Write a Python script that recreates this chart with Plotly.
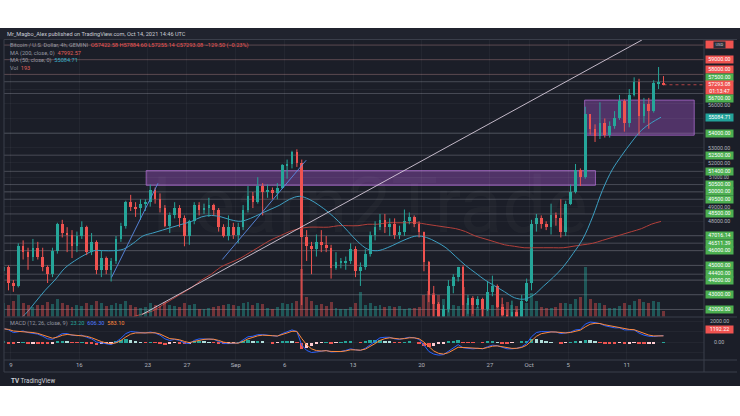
import numpy as np
import pandas as pd
import plotly.graph_objects as go

W, H = 740, 416

# ---------------- data: BTC/USD, 12h bars ----------------
BAR_START = "2021-08-08 06:00"   # centre of the first 12h bar
OPEN_FIRST = 44600

CLOSES = [
    44900, 43800, 43600, 46300, 45900, 45600, 46200, 45600, 44900, 44400,
    46000, 47800, 47200, 47100, 46300, 47000, 47600, 45900, 46600, 44700,
    45500, 44700, 45300, 46800, 47700, 49300, 49000, 48900, 49200, 49300,
    50100, 49500, 48900, 47700, 48400, 48900, 48200, 47000, 48000, 49100,
    48800, 48900, 49100, 48800, 47600, 47000, 47600, 47100,
    47600, 48800, 49700, 49300, 50400, 50000, 50100, 49900, 50300, 51800,
    51900, 52700, 52000, 46900, 46300, 46100, 46600, 46400, 46200, 44800,
    45200, 45200, 45300, 46100, 44600, 44900, 45800, 47100, 47600, 48100,
    47600, 47800, 47100, 47300, 48000, 48300, 47800, 47300, 45200, 43000,
    42400, 40700, 42000, 43600, 44200, 44900, 42300, 42800, 42300, 42700,
    42000, 43200, 43600, 42200, 41600, 41000, 41800, 41500, 42600, 43800,
    47800, 48200, 47800, 47600, 48400, 48200, 47300, 49200, 50000, 51500,
    51000, 55300, 54300, 53800, 54700, 53900, 54500, 55000, 56200, 54700,
    56600, 57500, 55200, 56000, 55500, 57400, 57422.58, 57293.08,
]
HIGHS = [
    45300, 45000, 44000, 46500, 46700, 46200, 46800, 46600, 46200, 45000,
    46200, 47900, 48100, 47600, 47400, 47300, 48000, 47700, 47200, 46700,
    46000, 45600, 45500, 47000, 47900, 49400, 49800, 49300, 49500, 49500,
    50500, 50300, 49900, 49100, 48600, 49300, 49100, 48400, 48100, 49300,
    49300, 49200, 49600, 49200, 48900, 47800, 48400, 47900,
    47900, 49100, 50400, 50000, 51000, 50600, 50500, 50300, 50600, 51900,
    52200, 52800, 52900, 52200, 47400, 46600, 47100, 47400, 47000, 46400,
    45900, 45500, 45600, 46500, 46300, 45200, 46100, 47300, 48000, 48500,
    48500, 48200, 48200, 47700, 48800, 48600, 48400, 48000, 47300, 45300,
    43600, 42500, 42300, 44000, 44400, 44900, 45000, 43000, 42900, 42900,
    42800, 43900, 44300, 43700, 42800, 42000, 42600, 42000, 43000, 44100,
    48100, 48500, 48400, 48000, 49200, 48600, 49500, 49400, 50500, 51900,
    51600, 55800, 55300, 54600, 56100, 55000, 54800, 55500, 56600, 56300,
    57000, 57800, 57700, 56400, 56400, 57600, 58500, 57884.60,
]
LOWS = [
    44300, 43300, 43200, 43500, 45400, 44700, 45300, 45400, 44600, 43800,
    44200, 45800, 46900, 45900, 45500, 45900, 46800, 45700, 45700, 44400,
    44200, 44400, 43900, 45100, 46600, 47500, 48700, 48300, 48100, 48700,
    49000, 49200, 48600, 47600, 47200, 48200, 47600, 46300, 46400, 47800,
    48400, 48500, 48300, 48400, 47300, 46900, 46700, 46800,
    46500, 47400, 48600, 48900, 49200, 48400, 49600, 49500, 49500, 50200,
    50900, 51600, 51700, 42300, 45300, 44400, 45600, 45900, 45900, 44100,
    44700, 44800, 44700, 45100, 44200, 43600, 44700, 45600, 46700, 47400,
    47200, 47000, 46800, 46800, 47000, 47800, 47600, 46900, 44600, 42500,
    40800, 39600, 40600, 41800, 43100, 43900, 40700, 41700, 41700, 42100,
    40800, 41900, 42900, 42100, 41300, 40900, 40800, 41200, 41400, 42500,
    43300, 47300, 47500, 47400, 47100, 47700, 46900, 47000, 49100, 49900,
    50400, 50900, 53900, 53400, 53600, 53700, 53700, 54300, 54900, 54100,
    54400, 56500, 53900, 54700, 54300, 55400, 57000, 57255.14,
]
VOLUME = [  # hundreds of BTC per bar
    14, 12, 16, 22, 14, 12, 10, 12, 12, 15,
    13, 18, 14, 12, 10, 12, 11, 14, 12, 16,
    14, 11, 12, 14, 13, 16, 12, 10, 9, 10,
    14, 12, 11, 15, 12, 11, 10, 14, 12, 13,
    8, 8, 9, 10, 11, 12, 13, 12,
    11, 14, 15, 12, 14, 13, 9, 8, 10, 14,
    13, 14, 16, 48, 20, 16, 12, 13, 11, 15,
    9, 8, 8, 10, 14, 25, 12, 14, 11, 12,
    10, 11, 10, 11, 8, 9, 9, 10, 22, 26,
    24, 22, 18, 16, 12, 11, 30, 14, 12, 10,
    14, 12, 12, 14, 13, 15, 12, 11, 12, 14,
    24, 16, 10, 9, 9, 10, 14, 14, 13, 18,
    20, 50, 18, 14, 14, 12, 9, 9, 11, 14,
    12, 16, 18, 15, 14, 16, 15, 6,
]
MACD_LINE = [
    1300, 1150, 900, 1000, 1050, 900, 850, 750, 550, 300,
    250, 550, 800, 800, 650, 600, 650, 450, 300, 0,
    -100, -200, -250, 0, 350, 800, 1000, 950, 900, 850,
    950, 850, 650, 300, 150, 250, 150, -100, -150, 150,
    300, 300, 300, 250, 50, -150, -150, -150,
    -100, 200, 500, 550, 700, 700, 650, 550, 550, 800,
    1000, 1150, 1000, -300, -800, -1000, -950, -900, -800, -950,
    -950, -900, -800, -650, -750, -800, -600, -250, 100, 400,
    450, 450, 300, 250, 350, 450, 400, 250, -300, -900,
    -1150, -1250, -1200, -900, -600, -250, -550, -600, -650, -600,
    -650, -450, -300, -350, -500, -650, -650, -600, -450, -150,
    500, 900, 1000, 1000, 1000, 950, 800, 850, 950, 1150,
    1200, 1700, 1900, 1850, 1750, 1550, 1450, 1350, 1350, 1150,
    1150, 1150, 850, 650, 550, 520, 580, 606.30,
]
MACD_SIGNAL = [
    1250, 1200, 1050, 1020, 1030, 960, 900, 820, 680, 480,
    360, 460, 640, 720, 680, 640, 640, 540, 410, 190,
    40, -90, -170, -80, 140, 480, 750, 860, 880, 860,
    910, 880, 760, 520, 320, 280, 210, 50, -60, 50,
    180, 250, 280, 260, 150, -10, -90, -130,
    -110, 60, 300, 440, 590, 650, 650, 600, 570, 690,
    860, 1020, 1010, 330, -270, -650, -820, -860, -830, -900,
    -930, -910, -850, -740, -750, -780, -680, -450, -150, 150,
    320, 400, 340, 290, 320, 400, 400, 310, -10, -480,
    -850, -1080, -1150, -1020, -790, -500, -520, -560, -610, -600,
    -630, -530, -400, -370, -440, -560, -610, -600, -520, -310,
    120, 540, 790, 910, 960, 950, 870, 860, 910, 1040,
    1130, 1440, 1690, 1780, 1760, 1640, 1540, 1440, 1390, 1260,
    1200, 1170, 1000, 810, 660, 580, 580, 583.10,
]

# moving averages, one reading per day at 12:00 (USD thousands)
MA_START = "2021-08-08 12:00"
MA50 = [
    40.6, 41.1, 41.7, 42.5, 43.3, 44.0, 44.8, 45.3, 45.7, 46.0, 46.0, 46.0,
    46.1, 46.5, 47.0, 47.2, 47.4, 47.6, 47.8, 48.0, 48.3, 48.4, 48.3, 48.1,
    48.0, 48.2, 48.5, 48.8, 49.1, 49.5, 49.7, 49.5, 49.1, 48.6, 48.0, 47.3,
    46.6, 46.1, 46.0, 46.2, 46.5, 46.8, 47.0, 46.9, 46.6, 46.2, 45.6, 45.0,
    44.5, 44.0, 43.6, 43.2, 42.8, 42.7,
    43.0, 43.6, 44.2, 44.9, 45.8, 46.8, 48.3, 50.1, 51.5, 52.5, 53.4, 54.2,
    54.7, 55.08471,
]
MA200 = [
    37.0, 37.4, 37.8, 38.2, 38.6, 39.0, 39.4, 39.8, 40.1, 40.5, 40.8, 41.1,
    41.3, 41.5, 41.7, 41.9, 42.3, 42.7, 43.1, 43.5, 44.0, 44.4, 44.9, 45.2,
    45.5, 45.9, 46.3, 46.7, 47.0, 47.3, 47.5, 47.6, 47.6, 47.6, 47.7, 47.7,
    47.7, 47.8, 47.8, 47.9, 47.9, 47.9, 47.9, 47.8, 47.7, 47.6, 47.5, 47.3,
    47.0, 46.8, 46.6, 46.4, 46.3, 46.2,
    46.2, 46.2, 46.2, 46.2, 46.3, 46.4, 46.5, 46.7, 46.9, 47.1, 47.3, 47.5,
    47.8, 47.99257,
]

# horizontal levels drawn on the chart
LEVELS_RED = [60000, 59000, 58000]
LEVELS_GREEN = [57500, 56700, 54000, 52500, 51400, 50500, 50000, 49500, 48500,
                47016.14, 46511.39, 46000, 45000, 44400, 44000, 43000, 42000]
SCALE_TICKS = [56000, 53000, 52000, 51000, 49000, 48000]

# rectangles (time from, time to, price low, price high)
ZONES = [
    ("2021-08-22 20:00", "2021-10-07 19:00", 50450, 51450),
    ("2021-10-06 16:30", "2021-10-17 21:30", 53860, 56250),
]
# trend lines ((time, price), (time, price), colour)
TRENDLINES = [
    (("2021-08-22 10:00", 41660), ("2021-10-12 13:00", 60340), "rgba(225,212,228,0.85)"),
    (("2021-08-19 07:00", 44180), ("2021-08-24 01:00", 50590), "rgba(90,140,230,0.9)"),
    (("2021-08-30 15:00", 45400), ("2021-09-08 05:00", 52160), "rgba(90,140,230,0.9)"),
]

TIME_TICKS = ["2021-08-09", "2021-08-16", "2021-08-23", "2021-08-27", "2021-09-01",
              "2021-09-06", "2021-09-13", "2021-09-20", "2021-09-27", "2021-10-01",
              "2021-10-05", "2021-10-11"]
TIME_TEXT = ["9", "16", "23", "27", "Sep", "6", "13", "20", "27", "Oct", "5", "11"]

# ---------------- derived series ----------------
closes = np.array(CLOSES, dtype=float)
opens = np.concatenate([[OPEN_FIRST], closes[:-1]])
highs = np.array(HIGHS, dtype=float)
lows = np.array(LOWS, dtype=float)
t = pd.date_range(BAR_START, periods=len(closes), freq="12h")
t_ma = pd.date_range(MA_START, periods=len(MA50), freq="D")
ma50 = np.array(MA50) * 1000
ma200 = np.array(MA200) * 1000
macd = np.array(MACD_LINE, dtype=float)
signal = np.array(MACD_SIGNAL, dtype=float)
hist = macd - signal

UP, DOWN = "#26a69a", "#ef5350"
up_mask = closes >= opens
BAR_MS = 12 * 3600 * 1000

# ---------------- geometry ----------------
PANE_TOP, PANE_BOT = 40.0, 316.5
MACD_TOP, MACD_BOT = 317.5, 360.0
PLOT_L, PLOT_R = 4.0, 704.0
Y_MIN, Y_MAX = 41520, 60340
M_MIN, M_MAX = -1714, 2333
X_RANGE = ["2021-08-08 07:00", "2021-10-18 21:30"]
BG = "#1b1e28"
FONT = "Roboto"


def py(p):
    return PANE_TOP + (Y_MAX - p) / (Y_MAX - Y_MIN) * (PANE_BOT - PANE_TOP)


def my(v):
    return MACD_TOP + (M_MAX - v) / (M_MAX - M_MIN) * (MACD_BOT - MACD_TOP)


def yp(pix):
    return 1 - pix / H


fig = go.Figure()

# volume (overlay at the bottom of the price pane)
fig.add_trace(go.Bar(
    x=t, y=VOLUME, yaxis="y3",
    marker=dict(color=np.where(up_mask, "rgba(38,166,154,0.42)", "rgba(239,83,80,0.42)"),
                line=dict(width=0)),
    width=BAR_MS * 0.6, hoverinfo="skip", showlegend=False))

# moving averages
fig.add_trace(go.Scatter(x=t_ma, y=ma200, mode="lines", line=dict(color="#b3403b", width=1, shape="spline"),
                         hoverinfo="skip", showlegend=False))
fig.add_trace(go.Scatter(x=t_ma, y=ma50, mode="lines", line=dict(color="#3d9fc2", width=1, shape="spline"),
                         hoverinfo="skip", showlegend=False))

# candles: wicks as segments, bodies as floating bars
for mask, col in ((up_mask, UP), (~up_mask, DOWN)):
    wx, wy = [], []
    for ti, lo, hi in zip(t[mask], lows[mask], highs[mask]):
        wx += [ti, ti, None]
        wy += [lo, hi, None]
    fig.add_trace(go.Scatter(x=wx, y=wy, mode="lines", line=dict(color=col, width=1),
                             hoverinfo="skip", showlegend=False))
    body_lo = np.minimum(opens[mask], closes[mask])
    body_h = np.maximum(np.abs(closes[mask] - opens[mask]), 40)
    fig.add_trace(go.Bar(x=t[mask], y=body_h, base=body_lo, width=BAR_MS * 0.55,
                         marker=dict(color=col, line=dict(width=0)),
                         hoverinfo="skip", showlegend=False))

# MACD pane
hist_colors = []
for i, h in enumerate(hist):
    prev = hist[i - 1] if i else h
    if h >= 0:
        hist_colors.append("#26a69a" if h >= prev else "#b2dfdb")
    else:
        hist_colors.append("#ffcdd2" if h > prev else "#ef5350")
fig.add_trace(go.Bar(x=t, y=hist, yaxis="y2", marker=dict(color=hist_colors, line=dict(width=0)),
                     width=BAR_MS * 0.7, hoverinfo="skip", showlegend=False))
fig.add_trace(go.Scatter(x=t, y=macd, yaxis="y2", mode="lines", line=dict(color="#2962ff", width=1),
                         hoverinfo="skip", showlegend=False))
fig.add_trace(go.Scatter(x=t, y=signal, yaxis="y2", mode="lines", line=dict(color="#ff8a3d", width=1),
                         hoverinfo="skip", showlegend=False))

shapes = []
# page frame: dark chart card on white
shapes.append(dict(type="rect", xref="paper", yref="paper", x0=0, x1=1, y0=yp(386), y1=yp(28),
                   fillcolor=BG, line=dict(width=0), layer="below"))
shapes.append(dict(type="rect", xref="paper", yref="paper", x0=0, x1=1, y0=yp(39.5), y1=yp(28),
                   fillcolor="#20232e", line=dict(width=0), layer="below"))
for y0 in (39.5, PANE_BOT + 0.5, MACD_BOT, 372):
    shapes.append(dict(type="line", xref="paper", yref="paper", x0=PLOT_L / W, x1=1 - 3 / W,
                       y0=yp(y0), y1=yp(y0), line=dict(color="#3a3e4a", width=1)))
shapes.append(dict(type="line", xref="paper", yref="paper", x0=PLOT_R / W, x1=PLOT_R / W,
                   y0=yp(372), y1=yp(39.5), line=dict(color="#3a3e4a", width=1)))
shapes.append(dict(type="line", xref="paper", yref="paper", x0=PLOT_L / W, x1=PLOT_L / W,
                   y0=yp(372), y1=yp(39.5), line=dict(color="#3a3e4a", width=1)))

# horizontal levels
for lv in LEVELS_RED:
    shapes.append(dict(type="line", xref="x", yref="y", x0=X_RANGE[0], x1=X_RANGE[1], y0=lv, y1=lv,
                       line=dict(color="rgba(220,150,150,0.3)", width=1), layer="below"))
for lv in LEVELS_GREEN:
    shapes.append(dict(type="line", xref="x", yref="y", x0=X_RANGE[0], x1=X_RANGE[1], y0=lv, y1=lv,
                       line=dict(color="rgba(200,205,215,0.26)", width=1), layer="below"))
# last price line, from the last bar to the scale
shapes.append(dict(type="line", xref="x", yref="y", x0=t[-1], x1=X_RANGE[1],
                   y0=closes[-1], y1=closes[-1], line=dict(color="rgba(239,83,80,0.7)", width=1, dash="dot")))

# zones
for x0, x1, lo, hi in ZONES:
    shapes.append(dict(type="rect", xref="x", yref="y", x0=x0, x1=x1, y0=lo, y1=hi,
                       fillcolor="rgba(156,82,190,0.42)", line=dict(color="rgba(175,110,210,0.75)", width=1),
                       layer="below"))
# trend lines
for (ta, pa), (tb, pb), col in TRENDLINES:
    shapes.append(dict(type="line", xref="x", yref="y", x0=ta, y0=pa, x1=tb, y1=pb,
                       line=dict(color=col, width=1)))

ann = []


def note(px_x, px_y, text, size, color, xanchor="center", **kw):
    """Annotation placed in page pixels, anchored on its middle."""
    d = dict(x=px_x / W, y=yp(px_y), xref="paper", yref="paper", showarrow=False, text=text,
             xanchor=xanchor, yanchor="middle", font=dict(family=FONT, size=size, color=color))
    d.update(kw)
    ann.append(d)


# watermark
note(370, 205, "Learn2Trade", 78, "rgba(255,255,255,0.028)")

# header and legend
TXT = "#c9ccd4"
DIM = "#9598a1"
note(5, 34, "Mr_Magbo_Alex published on TradingView.com, Oct 14, 2021 14:46 UTC", 5.6, TXT, xanchor="left")
chg = closes[-1] - closes[-2]
ohlc_txt = (f"O{opens[-1]:.2f} H{highs[-1]:.2f} L{lows[-1]:.2f} C{closes[-1]:.2f} "
            f"{chg:+.2f} ({chg / closes[-2] * 100:+.2f}%)").replace("-", "\u2212")
legend_rows = [
    (45.7, "Bitcoin / U.S. Dollar, 4h, GEMINI", ohlc_txt, DOWN),
    (53.2, "MA (200, close, 0)", f"{ma200[-1]:.2f}", "#e0605a"),
    (60.4, "MA (50, close, 0)", f"{ma50[-1]:.2f}", "#3bb0c9"),
    (67.8, "Vol", "193", "#e0605a"),
]
for row_y, lab, val, col in legend_rows:
    note(8, row_y, f"<span style='color:{DIM}'>{lab}</span>  <span style='color:{col}'>{val}</span>",
         5.6, DIM, xanchor="left")
note(8, 323.5, (f"<span style='color:{DIM}'>MACD (12, 26, close, 9)</span>  "
                f"<span style='color:{hist_colors[-1]}'>{hist[-1]:.2f}</span>  "
                f"<span style='color:#4f7cff'>{macd[-1]:.2f}</span>  "
                f"<span style='color:#ff8a3d'>{signal[-1]:.2f}</span>"), 5.6, DIM, xanchor="left")

# price-scale labels; the last-price label stays put, the others are pushed apart
LABEL_H = 6.6
labels = []
for lv in LEVELS_RED:
    labels.append(dict(p=lv, text=f"{lv:.2f}", bg="#ef5350", h=LABEL_H, off=0, fixed=False))
labels.append(dict(p=closes[-1], text=f"{closes[-1]:.2f}<br>01:13:47", bg="#ef5350", h=12.5, off=3.0,
                   fixed=True))
for lv in LEVELS_GREEN:
    labels.append(dict(p=lv, text=f"{lv:.2f}", bg="#4caf50", h=LABEL_H, off=0, fixed=False))
labels.append(dict(p=ma50[-1], text=f"{ma50[-1]:.2f}", bg="#22a39b", h=LABEL_H, off=0, fixed=False))
for lb in labels:
    lb["y"] = py(lb["p"]) + lb["off"]
labels.sort(key=lambda d: d["y"])
for _ in range(400):
    for a, b in zip(labels[:-1], labels[1:]):
        gap = (a["h"] + b["h"]) / 2 + 1.0
        d = b["y"] - a["y"]
        if d < gap:
            need = gap - d
            if a["fixed"]:
                b["y"] += need
            elif b["fixed"]:
                a["y"] -= need
            else:
                a["y"] -= need / 2
                b["y"] += need / 2

LX = 719
# plain scale ticks sit in the free space between the coloured labels
for tk in SCALE_TICKS:
    ty = py(tk)
    above = max((lb["y"] + lb["h"] / 2 for lb in labels if lb["y"] <= ty), default=PANE_TOP)
    below = min((lb["y"] - lb["h"] / 2 for lb in labels if lb["y"] > ty), default=PANE_BOT)
    room = below - above
    ty = min(max(ty, above + 3.3), below - 3.3) if room >= 6.6 else (above + below) / 2
    size = 5.3 if room >= 6.6 else max(3.6, room * 0.75)
    note(LX, ty, f"{tk:.2f}", size, "#b2b5be")

for lb in labels:
    # the top label sits under the currency button
    txt = " " if lb["p"] == max(LEVELS_RED) else lb["text"]
    note(LX, lb["y"], txt, 5.3, "#ffffff", bgcolor=lb["bg"], width=27, height=lb["h"], borderpad=0)
# currency button over the top label
note(LX, 44.5, "USD", 4.2, "#d1d4dc", bgcolor="#2a2e39", width=11, height=5.5, borderpad=0)
# MACD scale labels
note(LX, my(2000), "2000.00", 5.3, "#b2b5be")
note(LX, my(1192.22), "1192.22", 5.3, "#ffffff", bgcolor="#ef5350", width=27, height=LABEL_H, borderpad=0)
note(LX, my(0), "0.00", 5.3, "#b2b5be")

# footer logo
note(9, 380.5, "<b>TV</b> TradingView", 6.3, "#d1d4dc", xanchor="left")

fig.update_layout(
    width=W, height=H, margin=dict(l=0, r=0, t=0, b=0),
    paper_bgcolor="#ffffff", plot_bgcolor="rgba(0,0,0,0)",
    showlegend=False, barmode="overlay", bargap=0, hovermode=False,
    shapes=shapes, annotations=ann,
    xaxis=dict(type="date", domain=[PLOT_L / W, PLOT_R / W], range=X_RANGE, anchor="y2",
               tickvals=TIME_TICKS, ticktext=TIME_TEXT, ticks="", showline=False,
               tickfont=dict(family=FONT, size=6, color="#b2b5be"),
               showgrid=True, gridcolor="rgba(255,255,255,0.04)", zeroline=False),
    yaxis=dict(domain=[yp(PANE_BOT), yp(PANE_TOP)], range=[Y_MIN, Y_MAX], anchor="x",
               showticklabels=False, ticks="", dtick=1000, tick0=0,
               showgrid=True, gridcolor="rgba(255,255,255,0.04)", zeroline=False),
    yaxis2=dict(domain=[yp(MACD_BOT), yp(MACD_TOP)], range=[M_MIN, M_MAX], anchor="x",
                showticklabels=False, ticks="", showgrid=True, dtick=1000,
                gridcolor="rgba(255,255,255,0.04)", zeroline=False),
    yaxis3=dict(overlaying="y", range=[0, PANE_BOT - PANE_TOP], visible=False),
)

fig.write_html("out.html", config={"displayModeBar": False})
